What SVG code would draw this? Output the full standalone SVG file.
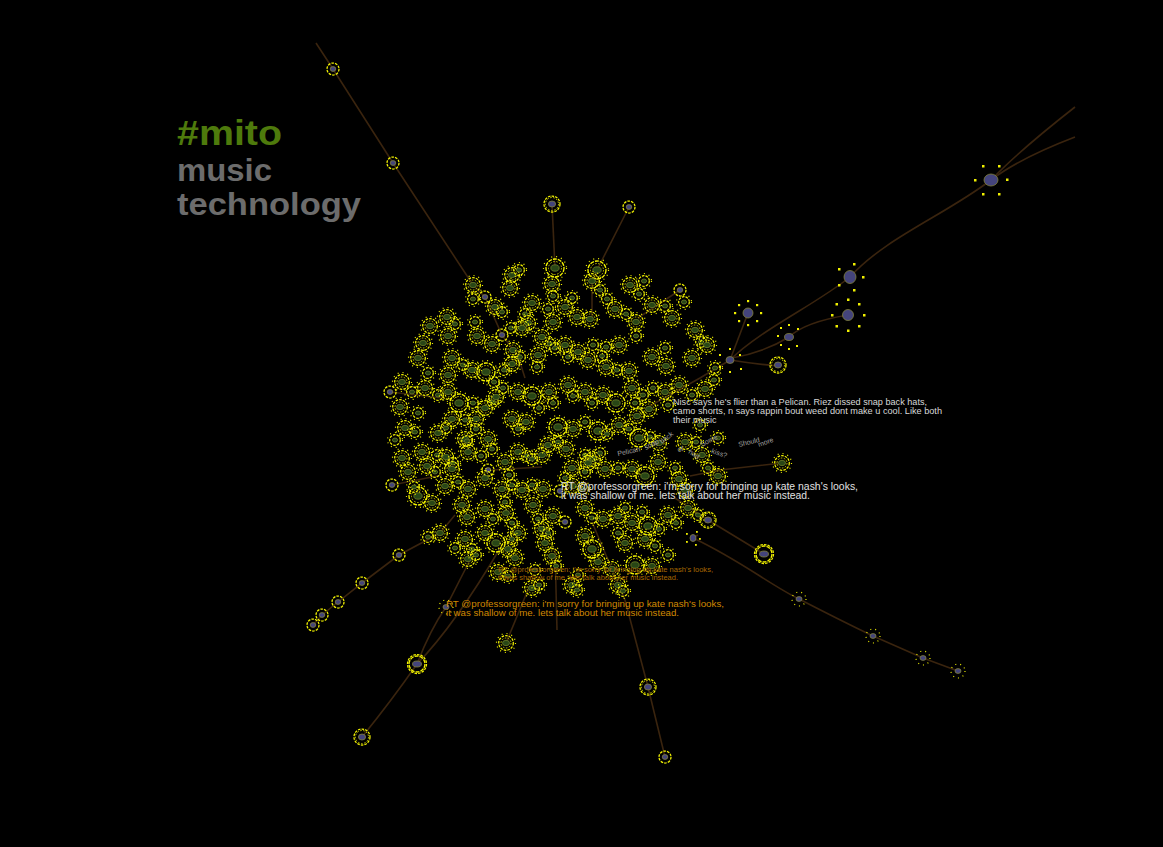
<svg xmlns="http://www.w3.org/2000/svg" width="1163" height="847" viewBox="0 0 1163 847">
<style>
.bg{fill:#000}
.e{fill:none;stroke:#3a240e;stroke-width:1.6}
.r1{fill:none;stroke:#f4f400;stroke-width:1.25;stroke-dasharray:2.6 1.1}
.r2{fill:none;stroke:#d4d400;stroke-width:0.9;stroke-dasharray:1.6 1.5}
.r3{fill:none;stroke:#f6f600;stroke-width:1.35;stroke-dasharray:4 1}
.hz{fill:none;stroke:#eeee00;stroke-width:1.2;stroke-dasharray:1 4}
.cg{fill:#284616;stroke:#6c7c28;stroke-width:0.8}
.cb{fill:#44447c;stroke:#80803a;stroke-width:0.8}
.dt{fill:#f0f000}
.t{font-family:'Liberation Sans',Arial,sans-serif}
.ttl{font-family:'Liberation Sans',Arial,sans-serif;font-weight:bold}
.w{fill:#d8d8d8;font-size:9px}
.w2{fill:#e0e0e0;font-size:10px}
.o1{fill:#a86800;font-size:7px}
.o2{fill:#d08800;font-size:9.5px}
.g{fill:#a0a0a0;font-size:7px}
</style>
<defs>
<g id="a"><circle r="9.5" class="hz"/><circle r="7.3" class="r1"/><circle r="5" class="r2"/><ellipse rx="3.5" ry="2.7" class="cg"/></g>
<g id="b"><circle r="11.5" class="hz"/><circle r="9" class="r3"/><circle r="6.5" class="r2"/><ellipse rx="4.2" ry="3.2" class="cg"/></g>
<g id="c"><circle r="7.5" class="hz"/><circle r="5.3" class="r1"/><ellipse rx="2.6" ry="2" class="cg"/></g>
<g id="d"><circle r="6" class="r1"/><ellipse rx="2.8" ry="2.4" class="cb"/></g>
<g id="D"><circle r="8" class="r1"/><circle r="6.5" class="r2"/><ellipse rx="3.6" ry="3" class="cb"/></g>
<g id="B"><circle r="9.5" class="r1"/><circle r="8" class="r3"/><ellipse rx="4.5" ry="3" class="cb"/></g>
<g id="m"><circle r="7" class="hz"/><ellipse rx="3" ry="2.4" class="cb"/></g>
<g id="s6"><ellipse rx="7" ry="6" class="cb"/><rect x="-9" y="-15" width="2.5" height="2.5" class="dt"/><rect x="7" y="-15" width="2.5" height="2.5" class="dt"/><rect x="-17" y="-1" width="2.5" height="2.5" class="dt"/><rect x="15" y="-1.5" width="2.5" height="2.5" class="dt"/><rect x="-9" y="13" width="2.5" height="2.5" class="dt"/><rect x="7" y="13" width="2.5" height="2.5" class="dt"/></g>
<g id="s5"><ellipse rx="6" ry="6.5" class="cb"/><rect x="-12" y="-9" width="2.5" height="2.5" class="dt"/><rect x="3" y="-14" width="2.5" height="2.5" class="dt"/><rect x="12" y="-1" width="2.5" height="2.5" class="dt"/><rect x="-12" y="7" width="2.5" height="2.5" class="dt"/><rect x="3" y="12" width="2.5" height="2.5" class="dt"/></g>
<g id="s8"><ellipse rx="5.5" ry="5.5" class="cb"/><rect x="-12.5" y="-12" width="2.5" height="2.5" class="dt"/><rect x="-1" y="-16.5" width="2.5" height="2.5" class="dt"/><rect x="10" y="-12" width="2.5" height="2.5" class="dt"/><rect x="-17" y="-1" width="2.5" height="2.5" class="dt"/><rect x="15" y="-1" width="2.5" height="2.5" class="dt"/><rect x="-12.5" y="10" width="2.5" height="2.5" class="dt"/><rect x="-1" y="14.5" width="2.5" height="2.5" class="dt"/><rect x="10" y="10" width="2.5" height="2.5" class="dt"/></g>
<g id="s7"><ellipse rx="5" ry="5" class="cb"/><rect x="-10" y="-9" width="2.2" height="2.2" class="dt"/><rect x="-1" y="-13" width="2.2" height="2.2" class="dt"/><rect x="8" y="-9" width="2.2" height="2.2" class="dt"/><rect x="-14" y="-1" width="2.2" height="2.2" class="dt"/><rect x="12" y="-1" width="2.2" height="2.2" class="dt"/><rect x="-10" y="7" width="2.2" height="2.2" class="dt"/><rect x="-1" y="11" width="2.2" height="2.2" class="dt"/><rect x="8" y="7" width="2.2" height="2.2" class="dt"/></g>
<g id="s4"><ellipse rx="4" ry="3.5" class="cb"/><rect x="-11" y="-6" width="2" height="2" class="dt"/><rect x="-1" y="-12" width="2" height="2" class="dt"/><rect x="9" y="-6" width="2" height="2" class="dt"/><rect x="-11" y="6" width="2" height="2" class="dt"/><rect x="10" y="8" width="2" height="2" class="dt"/><rect x="-1" y="11" width="2" height="2" class="dt"/></g>
<g id="s3"><ellipse rx="4.5" ry="3.5" class="cb"/><rect x="-12" y="-2" width="2" height="2" class="dt"/><rect x="-9" y="-10" width="2" height="2" class="dt"/><rect x="-1" y="-13" width="2" height="2" class="dt"/><rect x="8" y="-9" width="2" height="2" class="dt"/><rect x="-9" y="7" width="2" height="2" class="dt"/><rect x="-1" y="11" width="2" height="2" class="dt"/><rect x="7" y="8" width="2" height="2" class="dt"/></g>
<g id="sm"><ellipse rx="3" ry="3.5" class="cb"/><rect x="-7" y="-5" width="1.8" height="1.8" class="dt"/><rect x="3" y="-7" width="1.8" height="1.8" class="dt"/><rect x="6" y="0" width="1.8" height="1.8" class="dt"/><rect x="-7" y="3" width="1.8" height="1.8" class="dt"/><rect x="2" y="6" width="1.8" height="1.8" class="dt"/></g>
</defs>
<rect class="bg" x="0" y="0" width="1163" height="847"/>
<g id="connectors">
<path class="e" d="M316,43 L333,69 L393,163 L473,285 L485,297 L502,335 L518,356 L525,378"/>
<path class="e" d="M552,204 L555,268"/>
<path class="e" d="M629,207 L597,270 L592,285 L592,318"/>
<path class="e" d="M680,290 L638,318"/>
<path class="e" d="M1075,107 Q1020,150 991,180"/>
<path class="e" d="M1075,137 Q1020,158 991,180"/>
<path class="e" d="M991,180 C945,215 885,238 850,277 C815,305 760,330 730,360 L700,378 L648,407"/>
<path class="e" d="M848,315 Q805,322 789,337 Q765,352 732,358"/>
<path class="e" d="M748,313 L730,360"/>
<path class="e" d="M730,360 Q755,364 778,366"/>
<path class="e" d="M782,463 L720,470 L690,476"/>
<path class="e" d="M764,554 L708,520 L675,498"/>
<path class="e" d="M698,535 L693,538 C740,560 770,585 799,599 C830,615 850,625 873,636 L923,658 L958,671"/>
<path class="e" d="M665,757 L648,687 L625,600 L592,522"/>
<path class="e" d="M313,625 L322,615 L338,602 L362,583 L399,555 L440,533 L455,515"/>
<path class="e" d="M362,737 Q392,700 417,664 Q430,630 446,607 L470,560"/>
<path class="e" d="M417,664 Q455,625 502,545"/>
<path class="e" d="M506,643 L530,585"/>
<path class="e" d="M390,392 L442,398"/>
<path class="e" d="M392,485 L442,475"/>
<path class="e" d="M492,470 L542,467"/>
<path class="e" d="M555,548 L557,630"/>
</g>
<g id="nodes">
<g id="o1"><use href="#d" x="333" y="69"/></g>
<g id="o2"><use href="#d" x="393" y="163"/></g>
<g id="o3"><use href="#D" x="552" y="204"/></g>
<g id="o4"><use href="#d" x="629" y="207"/></g>
<g id="o5"><use href="#s6" x="991" y="180"/></g>
<g id="o6"><use href="#s5" x="850" y="277"/></g>
<g id="o7"><use href="#s8" x="848" y="315"/></g>
<g id="o8"><use href="#s7" x="748" y="313"/></g>
<g id="o9"><use href="#s3" x="789" y="337"/></g>
<g id="o10"><use href="#s4" x="730" y="360"/></g>
<g id="o11"><use href="#D" x="778" y="365"/></g>
<g id="o12"><use href="#a" x="782" y="463"/></g>
<g id="o13"><use href="#B" x="764" y="554"/></g>
<g id="o14"><use href="#D" x="708" y="520"/></g>
<g id="o15"><use href="#sm" x="693" y="538"/></g>
<g id="o16"><use href="#m" x="799" y="599"/></g>
<g id="o17"><use href="#m" x="873" y="636"/></g>
<g id="o18"><use href="#m" x="923" y="658"/></g>
<g id="o19"><use href="#m" x="958" y="671"/></g>
<g id="o20"><use href="#D" x="648" y="687"/></g>
<g id="o21"><use href="#d" x="665" y="757"/></g>
<g id="o22"><use href="#D" x="362" y="737"/></g>
<g id="o23"><use href="#B" x="417" y="664"/></g>
<g id="o24"><use href="#d" x="313" y="625"/></g>
<g id="o25"><use href="#d" x="322" y="615"/></g>
<g id="o26"><use href="#d" x="338" y="602"/></g>
<g id="o27"><use href="#d" x="362" y="583"/></g>
<g id="o28"><use href="#d" x="399" y="555"/></g>
<g id="o29"><use href="#a" x="506" y="643"/></g>
<g id="o30"><use href="#d" x="390" y="392"/></g>
<g id="o31"><use href="#d" x="392" y="485"/></g>
<g id="o32"><use href="#a" x="440" y="533"/></g>
<g id="o33"><use href="#m" x="446" y="607"/></g>
<g id="n1"><use href="#b" x="555" y="268"/></g>
<g id="n2"><use href="#b" x="597" y="270"/></g>
<g id="n3"><use href="#a" x="512" y="275"/></g>
<g id="n4"><use href="#a" x="510" y="288"/></g>
<g id="n5"><use href="#c" x="519" y="270"/></g>
<g id="n6"><use href="#a" x="552" y="284"/></g>
<g id="n7"><use href="#c" x="553" y="296"/></g>
<g id="n8"><use href="#a" x="592" y="281"/></g>
<g id="n9"><use href="#c" x="600" y="290"/></g>
<g id="n10"><use href="#a" x="473" y="285"/></g>
<g id="n11"><use href="#a" x="630" y="285"/></g>
<g id="n12"><use href="#c" x="639" y="294"/></g>
<g id="n13"><use href="#c" x="644" y="281"/></g>
<g id="n14"><use href="#d" x="680" y="290"/></g>
<g id="n15"><use href="#c" x="473" y="299"/></g>
<g id="n16"><use href="#d" x="485" y="297"/></g>
<g id="n17"><use href="#a" x="495" y="307"/></g>
<g id="n18"><use href="#c" x="502" y="312"/></g>
<g id="n19"><use href="#a" x="532" y="303"/></g>
<g id="n20"><use href="#c" x="525" y="314"/></g>
<g id="n21"><use href="#a" x="528" y="323"/></g>
<g id="n22"><use href="#c" x="548" y="309"/></g>
<g id="n23"><use href="#a" x="553" y="322"/></g>
<g id="n24"><use href="#c" x="572" y="298"/></g>
<g id="n25"><use href="#a" x="577" y="317"/></g>
<g id="n26"><use href="#a" x="590" y="319"/></g>
<g id="n27"><use href="#c" x="607" y="299"/></g>
<g id="n28"><use href="#a" x="615" y="309"/></g>
<g id="n29"><use href="#c" x="626" y="314"/></g>
<g id="n30"><use href="#a" x="636" y="322"/></g>
<g id="n31"><use href="#c" x="636" y="336"/></g>
<g id="n32"><use href="#a" x="652" y="305"/></g>
<g id="n33"><use href="#c" x="665" y="306"/></g>
<g id="n34"><use href="#a" x="672" y="318"/></g>
<g id="n35"><use href="#a" x="695" y="330"/></g>
<g id="n36"><use href="#c" x="701" y="342"/></g>
<g id="n37"><use href="#a" x="447" y="317"/></g>
<g id="n38"><use href="#c" x="455" y="324"/></g>
<g id="n39"><use href="#a" x="448" y="336"/></g>
<g id="n40"><use href="#c" x="475" y="322"/></g>
<g id="n41"><use href="#a" x="477" y="336"/></g>
<g id="n42"><use href="#a" x="492" y="344"/></g>
<g id="n43"><use href="#d" x="502" y="335"/></g>
<g id="n44"><use href="#c" x="511" y="328"/></g>
<g id="n45"><use href="#a" x="522" y="328"/></g>
<g id="n46"><use href="#a" x="542" y="337"/></g>
<g id="n47"><use href="#c" x="550" y="344"/></g>
<g id="n48"><use href="#a" x="423" y="343"/></g>
<g id="n49"><use href="#a" x="418" y="358"/></g>
<g id="n50"><use href="#c" x="428" y="373"/></g>
<g id="n51"><use href="#a" x="452" y="358"/></g>
<g id="n52"><use href="#c" x="463" y="365"/></g>
<g id="n53"><use href="#a" x="472" y="370"/></g>
<g id="n54"><use href="#a" x="448" y="375"/></g>
<g id="n55"><use href="#b" x="486" y="372"/></g>
<g id="n56"><use href="#c" x="494" y="382"/></g>
<g id="n57"><use href="#a" x="513" y="350"/></g>
<g id="n58"><use href="#c" x="520" y="357"/></g>
<g id="n59"><use href="#a" x="512" y="364"/></g>
<g id="n60"><use href="#c" x="504" y="370"/></g>
<g id="n61"><use href="#a" x="538" y="355"/></g>
<g id="n62"><use href="#c" x="537" y="367"/></g>
<g id="n63"><use href="#c" x="555" y="348"/></g>
<g id="n64"><use href="#a" x="565" y="345"/></g>
<g id="n65"><use href="#c" x="568" y="357"/></g>
<g id="n66"><use href="#a" x="578" y="352"/></g>
<g id="n67"><use href="#c" x="593" y="345"/></g>
<g id="n68"><use href="#a" x="588" y="360"/></g>
<g id="n69"><use href="#c" x="602" y="356"/></g>
<g id="n70"><use href="#a" x="606" y="367"/></g>
<g id="n71"><use href="#c" x="617" y="370"/></g>
<g id="n72"><use href="#a" x="629" y="371"/></g>
<g id="n73"><use href="#c" x="606" y="347"/></g>
<g id="n74"><use href="#a" x="619" y="345"/></g>
<g id="n75"><use href="#a" x="652" y="357"/></g>
<g id="n76"><use href="#c" x="665" y="348"/></g>
<g id="n77"><use href="#a" x="666" y="366"/></g>
<g id="n78"><use href="#a" x="692" y="358"/></g>
<g id="n79"><use href="#c" x="715" y="368"/></g>
<g id="n80"><use href="#a" x="425" y="388"/></g>
<g id="n81"><use href="#a" x="402" y="382"/></g>
<g id="n82"><use href="#c" x="412" y="392"/></g>
<g id="n83"><use href="#c" x="438" y="395"/></g>
<g id="n84"><use href="#a" x="448" y="392"/></g>
<g id="n85"><use href="#b" x="459" y="403"/></g>
<g id="n86"><use href="#c" x="473" y="403"/></g>
<g id="n87"><use href="#a" x="485" y="408"/></g>
<g id="n88"><use href="#c" x="493" y="402"/></g>
<g id="n89"><use href="#a" x="476" y="419"/></g>
<g id="n90"><use href="#c" x="465" y="420"/></g>
<g id="n91"><use href="#a" x="452" y="419"/></g>
<g id="n92"><use href="#a" x="400" y="407"/></g>
<g id="n93"><use href="#c" x="418" y="413"/></g>
<g id="n94"><use href="#a" x="405" y="428"/></g>
<g id="n95"><use href="#c" x="415" y="432"/></g>
<g id="n96"><use href="#a" x="438" y="433"/></g>
<g id="n97"><use href="#c" x="446" y="428"/></g>
<g id="n98"><use href="#a" x="496" y="397"/></g>
<g id="n99"><use href="#c" x="503" y="388"/></g>
<g id="n100"><use href="#a" x="518" y="392"/></g>
<g id="n101"><use href="#b" x="532" y="396"/></g>
<g id="n102"><use href="#c" x="539" y="408"/></g>
<g id="n103"><use href="#a" x="549" y="392"/></g>
<g id="n104"><use href="#c" x="553" y="403"/></g>
<g id="n105"><use href="#a" x="568" y="385"/></g>
<g id="n106"><use href="#c" x="573" y="396"/></g>
<g id="n107"><use href="#a" x="585" y="392"/></g>
<g id="n108"><use href="#c" x="592" y="403"/></g>
<g id="n109"><use href="#a" x="603" y="395"/></g>
<g id="n110"><use href="#b" x="616" y="403"/></g>
<g id="n111"><use href="#a" x="632" y="388"/></g>
<g id="n112"><use href="#c" x="643" y="395"/></g>
<g id="n113"><use href="#a" x="649" y="409"/></g>
<g id="n114"><use href="#c" x="635" y="403"/></g>
<g id="n115"><use href="#a" x="637" y="416"/></g>
<g id="n116"><use href="#c" x="653" y="388"/></g>
<g id="n117"><use href="#a" x="665" y="392"/></g>
<g id="n118"><use href="#c" x="668" y="405"/></g>
<g id="n119"><use href="#a" x="679" y="385"/></g>
<g id="n120"><use href="#c" x="692" y="395"/></g>
<g id="n121"><use href="#a" x="705" y="389"/></g>
<g id="n122"><use href="#c" x="714" y="380"/></g>
<g id="n123"><use href="#a" x="512" y="419"/></g>
<g id="n124"><use href="#c" x="518" y="429"/></g>
<g id="n125"><use href="#a" x="526" y="422"/></g>
<g id="n126"><use href="#b" x="558" y="427"/></g>
<g id="n127"><use href="#a" x="573" y="429"/></g>
<g id="n128"><use href="#c" x="585" y="422"/></g>
<g id="n129"><use href="#b" x="598" y="431"/></g>
<g id="n130"><use href="#c" x="607" y="434"/></g>
<g id="n131"><use href="#a" x="619" y="425"/></g>
<g id="n132"><use href="#c" x="629" y="429"/></g>
<g id="n133"><use href="#c" x="476" y="429"/></g>
<g id="n134"><use href="#a" x="488" y="439"/></g>
<g id="n135"><use href="#c" x="492" y="449"/></g>
<g id="n136"><use href="#a" x="465" y="439"/></g>
<g id="n137"><use href="#a" x="518" y="452"/></g>
<g id="n138"><use href="#c" x="527" y="456"/></g>
<g id="n139"><use href="#a" x="542" y="455"/></g>
<g id="n140"><use href="#c" x="585" y="455"/></g>
<g id="n141"><use href="#a" x="593" y="459"/></g>
<g id="n142"><use href="#c" x="600" y="453"/></g>
<g id="n143"><use href="#b" x="639" y="438"/></g>
<g id="n144"><use href="#c" x="650" y="437"/></g>
<g id="n145"><use href="#a" x="659" y="443"/></g>
<g id="n146"><use href="#a" x="685" y="442"/></g>
<g id="n147"><use href="#c" x="696" y="442"/></g>
<g id="n148"><use href="#c" x="718" y="438"/></g>
<g id="n149"><use href="#a" x="402" y="458"/></g>
<g id="n150"><use href="#a" x="422" y="452"/></g>
<g id="n151"><use href="#c" x="437" y="455"/></g>
<g id="n152"><use href="#a" x="446" y="457"/></g>
<g id="n153"><use href="#c" x="453" y="463"/></g>
<g id="n154"><use href="#a" x="408" y="472"/></g>
<g id="n155"><use href="#c" x="435" y="472"/></g>
<g id="n156"><use href="#a" x="452" y="469"/></g>
<g id="n157"><use href="#c" x="467" y="441"/></g>
<g id="n158"><use href="#a" x="468" y="452"/></g>
<g id="n159"><use href="#c" x="481" y="456"/></g>
<g id="n160"><use href="#d" x="488" y="470"/></g>
<g id="n161"><use href="#a" x="485" y="478"/></g>
<g id="n162"><use href="#a" x="505" y="462"/></g>
<g id="n163"><use href="#c" x="509" y="475"/></g>
<g id="n164"><use href="#c" x="532" y="459"/></g>
<g id="n165"><use href="#a" x="548" y="445"/></g>
<g id="n166"><use href="#c" x="558" y="442"/></g>
<g id="n167"><use href="#a" x="566" y="449"/></g>
<g id="n168"><use href="#a" x="588" y="463"/></g>
<g id="n169"><use href="#c" x="585" y="472"/></g>
<g id="n170"><use href="#a" x="572" y="468"/></g>
<g id="n171"><use href="#c" x="565" y="478"/></g>
<g id="n172"><use href="#a" x="605" y="469"/></g>
<g id="n173"><use href="#c" x="618" y="468"/></g>
<g id="n174"><use href="#a" x="632" y="469"/></g>
<g id="n175"><use href="#b" x="645" y="476"/></g>
<g id="n176"><use href="#a" x="658" y="462"/></g>
<g id="n177"><use href="#c" x="675" y="468"/></g>
<g id="n178"><use href="#a" x="679" y="479"/></g>
<g id="n179"><use href="#a" x="702" y="455"/></g>
<g id="n180"><use href="#c" x="708" y="468"/></g>
<g id="n181"><use href="#a" x="718" y="476"/></g>
<g id="n182"><use href="#b" x="418" y="496"/></g>
<g id="n183"><use href="#a" x="432" y="503"/></g>
<g id="n184"><use href="#c" x="414" y="487"/></g>
<g id="n185"><use href="#a" x="445" y="486"/></g>
<g id="n186"><use href="#c" x="458" y="482"/></g>
<g id="n187"><use href="#a" x="468" y="489"/></g>
<g id="n188"><use href="#a" x="502" y="489"/></g>
<g id="n189"><use href="#c" x="512" y="485"/></g>
<g id="n190"><use href="#a" x="522" y="490"/></g>
<g id="n191"><use href="#c" x="532" y="485"/></g>
<g id="n192"><use href="#a" x="543" y="489"/></g>
<g id="n193"><use href="#a" x="573" y="486"/></g>
<g id="n194"><use href="#c" x="583" y="489"/></g>
<g id="n195"><use href="#d" x="560" y="491"/></g>
<g id="n196"><use href="#a" x="462" y="505"/></g>
<g id="n197"><use href="#a" x="467" y="517"/></g>
<g id="n198"><use href="#a" x="485" y="509"/></g>
<g id="n199"><use href="#c" x="493" y="519"/></g>
<g id="n200"><use href="#c" x="505" y="502"/></g>
<g id="n201"><use href="#a" x="506" y="513"/></g>
<g id="n202"><use href="#c" x="512" y="523"/></g>
<g id="n203"><use href="#a" x="518" y="533"/></g>
<g id="n204"><use href="#a" x="533" y="505"/></g>
<g id="n205"><use href="#c" x="538" y="519"/></g>
<g id="n206"><use href="#a" x="542" y="529"/></g>
<g id="n207"><use href="#a" x="553" y="516"/></g>
<g id="n208"><use href="#c" x="548" y="533"/></g>
<g id="n209"><use href="#a" x="545" y="543"/></g>
<g id="n210"><use href="#d" x="565" y="522"/></g>
<g id="n211"><use href="#a" x="585" y="508"/></g>
<g id="n212"><use href="#c" x="592" y="518"/></g>
<g id="n213"><use href="#a" x="603" y="519"/></g>
<g id="n214"><use href="#a" x="618" y="516"/></g>
<g id="n215"><use href="#c" x="625" y="508"/></g>
<g id="n216"><use href="#a" x="632" y="523"/></g>
<g id="n217"><use href="#c" x="642" y="512"/></g>
<g id="n218"><use href="#b" x="648" y="526"/></g>
<g id="n219"><use href="#c" x="659" y="529"/></g>
<g id="n220"><use href="#a" x="668" y="515"/></g>
<g id="n221"><use href="#c" x="676" y="523"/></g>
<g id="n222"><use href="#a" x="688" y="508"/></g>
<g id="n223"><use href="#c" x="698" y="515"/></g>
<g id="n224"><use href="#c" x="428" y="537"/></g>
<g id="n225"><use href="#a" x="465" y="539"/></g>
<g id="n226"><use href="#c" x="472" y="549"/></g>
<g id="n227"><use href="#a" x="485" y="533"/></g>
<g id="n228"><use href="#b" x="496" y="543"/></g>
<g id="n229"><use href="#c" x="512" y="539"/></g>
<g id="n230"><use href="#a" x="508" y="549"/></g>
<g id="n231"><use href="#a" x="585" y="536"/></g>
<g id="n232"><use href="#b" x="592" y="549"/></g>
<g id="n233"><use href="#c" x="618" y="533"/></g>
<g id="n234"><use href="#a" x="625" y="543"/></g>
<g id="n235"><use href="#a" x="645" y="539"/></g>
<g id="n236"><use href="#c" x="655" y="546"/></g>
<g id="n237"><use href="#a" x="468" y="559"/></g>
<g id="n238"><use href="#c" x="476" y="555"/></g>
<g id="n239"><use href="#a" x="498" y="572"/></g>
<g id="n240"><use href="#c" x="508" y="576"/></g>
<g id="n241"><use href="#a" x="515" y="558"/></g>
<g id="n242"><use href="#a" x="532" y="588"/></g>
<g id="n243"><use href="#c" x="539" y="585"/></g>
<g id="n244"><use href="#a" x="552" y="556"/></g>
<g id="n245"><use href="#c" x="556" y="566"/></g>
<g id="n246"><use href="#a" x="572" y="585"/></g>
<g id="n247"><use href="#c" x="577" y="590"/></g>
<g id="n248"><use href="#a" x="598" y="562"/></g>
<g id="n249"><use href="#a" x="618" y="585"/></g>
<g id="n250"><use href="#c" x="623" y="591"/></g>
<g id="n251"><use href="#b" x="635" y="565"/></g>
<g id="n252"><use href="#a" x="652" y="566"/></g>
<g id="n253"><use href="#c" x="668" y="555"/></g>
<g id="n254"><use href="#c" x="578" y="575"/></g>
<g id="n255"><use href="#a" x="612" y="569"/></g>
<g id="n256"><use href="#a" x="430" y="326"/></g>
<g id="n257"><use href="#c" x="684" y="302"/></g>
<g id="n258"><use href="#a" x="707" y="345"/></g>
<g id="n259"><use href="#c" x="395" y="440"/></g>
<g id="n260"><use href="#a" x="427" y="466"/></g>
<g id="n261"><use href="#c" x="700" y="425"/></g>
<g id="n262"><use href="#a" x="565" y="307"/></g>
<g id="n263"><use href="#c" x="535" y="570"/></g>
<g id="n264"><use href="#a" x="685" y="490"/></g>
<g id="n265"><use href="#c" x="455" y="548"/></g>
</g>
<g id="title">
<text class="ttl" x="177" y="145" font-size="35" fill="#4e7a0c" textLength="105" lengthAdjust="spacingAndGlyphs">#mito</text>
<text class="ttl" x="177" y="181" font-size="32" fill="#6c6c6c" textLength="95" lengthAdjust="spacingAndGlyphs">music</text>
<text class="ttl" x="177" y="215" font-size="32" fill="#6c6c6c" textLength="184" lengthAdjust="spacingAndGlyphs">technology</text>
</g>
<g id="labels" class="t">
<text class="w" x="673" y="405" textLength="254" lengthAdjust="spacingAndGlyphs">Nisc says he's flier than a Pelican. Riez dissed snap back hats,</text>
<text class="w" x="673" y="414" textLength="269" lengthAdjust="spacingAndGlyphs">camo shorts, n says rappin bout weed dont make u cool. Like both</text>
<text class="w" x="673" y="423">their music</text>
<text class="w2" x="561" y="490" textLength="297" lengthAdjust="spacingAndGlyphs">RT @professorgreen: i'm sorry for bringing up kate nash's looks,</text>
<text class="w2" x="561" y="499" textLength="249" lengthAdjust="spacingAndGlyphs">it was shallow of me. lets talk about her music instead.</text>
<text class="o1" x="498" y="572" textLength="215" lengthAdjust="spacingAndGlyphs">RT @professorgreen: i'm sorry for bringing up kate nash's looks,</text>
<text class="o1" x="498" y="579.5" textLength="180" lengthAdjust="spacingAndGlyphs">it was shallow of me. lets talk about her music instead.</text>
<text class="o2" x="446" y="607" textLength="278" lengthAdjust="spacingAndGlyphs">RT @professorgreen: i'm sorry for bringing up kate nash's looks,</text>
<text class="o2" x="446" y="616" textLength="233" lengthAdjust="spacingAndGlyphs">it was shallow of me. lets talk about her music instead.</text>
<text class="g" transform="translate(739,447) rotate(-14)">Should</text>
<text class="g" transform="translate(759,447) rotate(-20)">more</text>
<text class="g" transform="translate(711,453) rotate(18)">kiss?</text>
<text class="g" transform="translate(702,447) rotate(-28)">Some</text>
<text class="g" transform="translate(678,452) rotate(-10)">of</text>
<text class="g" transform="translate(688,453) rotate(32)">had</text>
<text class="g" transform="translate(618,456) rotate(-12)">Pelican</text>
<text class="g" transform="translate(646,450) rotate(-28)">snap</text>
<text class="g" transform="translate(662,444) rotate(-38)">back</text>
</g>
</svg>
